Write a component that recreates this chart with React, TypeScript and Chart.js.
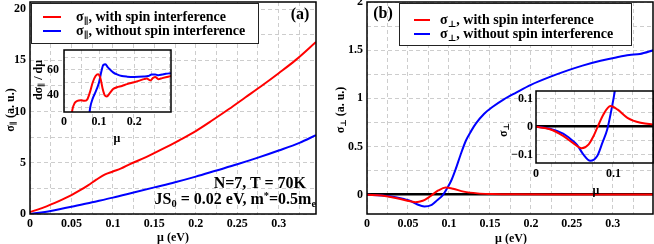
import React, { useEffect, useRef } from 'react';
import { Chart, registerables } from 'chart.js';
Chart.register(...registerables);

const RED = '#ff0000';
const BLUE = '#0000ff';
const FONT = '"Liberation Serif", "DejaVu Serif", serif';

// ---- Panel (a): sigma_par vs mu ----
const A_MU_RED = [0, 0.01, 0.02, 0.03, 0.04, 0.05, 0.06, 0.07, 0.08, 0.09, 0.1, 0.11, 0.12, 0.14, 0.16, 0.18, 0.2, 0.22, 0.24, 0.26, 0.28, 0.3, 0.32, 0.345];
const A_SIG_RED = [0.2, 0.45, 0.75, 1.08, 1.45, 1.85, 2.3, 2.8, 3.35, 3.85, 4.15, 4.45, 4.85, 5.55, 6.35, 7.2, 8.1, 9.15, 10.25, 11.4, 12.55, 13.75, 15.0, 16.8];
const A_MU_BLUE = [0, 0.025, 0.05, 0.075, 0.1, 0.125, 0.15, 0.175, 0.2, 0.225, 0.25, 0.275, 0.3, 0.325, 0.345];
const A_SIG_BLUE = [0, 0.3, 0.7, 1.15, 1.6, 2.1, 2.6, 3.1, 3.65, 4.25, 4.85, 5.5, 6.2, 6.95, 7.7];
const A_X_TICKS = [0, 0.025, 0.05, 0.075, 0.1, 0.125, 0.15, 0.175, 0.2, 0.225, 0.25, 0.275, 0.3, 0.325];
const A_X_LABELS = [0, 0.05, 0.1, 0.15, 0.2, 0.25, 0.3];
const A_Y_TICKS = [0, 2.5, 5, 7.5, 10, 12.5, 15, 17.5, 20];
const A_Y_LABELS = [0, 5, 10, 15, 20];

// ---- Panel (a) inset: d sigma_par / d mu ----
const AI_MU_RED = [0.018, 0.024, 0.03, 0.038, 0.048, 0.058, 0.066, 0.074, 0.082, 0.09, 0.097, 0.104, 0.11, 0.116, 0.122, 0.13, 0.14, 0.151, 0.165, 0.18, 0.2, 0.217, 0.228, 0.236, 0.246, 0.254, 0.26, 0.269, 0.28, 0.29, 0.305];
const AI_D_RED = [15, 28, 33, 35, 35.5, 35, 36, 42, 50, 55, 56.5, 53, 45, 39.5, 38.5, 41, 44.5, 46, 47, 48.5, 50, 51.5, 52.5, 53, 51.5, 53.5, 54.3, 52.5, 53.3, 54, 55];
const AI_MU_BLUE = [0.068, 0.075, 0.082, 0.088, 0.094, 0.1, 0.106, 0.112, 0.118, 0.125, 0.132, 0.14, 0.151, 0.165, 0.18, 0.2, 0.227, 0.24, 0.25, 0.26, 0.269, 0.28, 0.29, 0.305];
const AI_D_BLUE = [15, 30, 37, 41, 45, 50, 58, 64, 64.5, 62, 60, 58, 56.3, 55, 54.5, 54.3, 54.6, 55, 56.2, 56.3, 55.6, 56.2, 56.8, 57.3];
const AI_X_TICKS = [0, 0.05, 0.1, 0.15, 0.2, 0.25, 0.3];
const AI_X_LABELS = [0, 0.1, 0.2];
const AI_Y_TICKS = [30, 40, 50, 60, 70];
const AI_Y_LABELS = [40, 60];

// ---- Panel (b): sigma_perp vs mu (main and inset share data) ----
const B_MU_RED = [0, 0.018, 0.035, 0.048, 0.059, 0.068, 0.074, 0.079, 0.087, 0.096, 0.105, 0.118, 0.135, 0.152, 0.18, 0.25, 0.35];
const B_SIG_RED = [0, -0.009, -0.033, -0.059, -0.077, -0.063, -0.035, -0.004, 0.044, 0.074, 0.062, 0.032, 0.014, 0.008, 0.004, 0.002, 0.002];
const B_MU_BLUE = [0, 0.018, 0.035, 0.045, 0.053, 0.061, 0.07, 0.079, 0.086, 0.092, 0.098, 0.103, 0.108, 0.114, 0.1206, 0.127, 0.133, 0.143, 0.153, 0.167, 0.182, 0.2, 0.2225, 0.245, 0.263, 0.285, 0.304, 0.32, 0.333, 0.35];
const B_SIG_BLUE = [0, -0.007, -0.025, -0.045, -0.065, -0.099, -0.122, -0.105, -0.055, -0.009, 0.07, 0.15, 0.26, 0.41, 0.56, 0.66, 0.74, 0.84, 0.91, 0.99, 1.06, 1.14, 1.22, 1.29, 1.34, 1.39, 1.425, 1.45, 1.46, 1.5];
const B_X_TICKS = [0, 0.025, 0.05, 0.075, 0.1, 0.125, 0.15, 0.175, 0.2, 0.225, 0.25, 0.275, 0.3, 0.325];
const B_X_LABELS = [0, 0.05, 0.1, 0.15, 0.2, 0.25, 0.3];
const B_Y_TICKS = [0, 0.25, 0.5, 0.75, 1, 1.25, 1.5, 1.75, 2];
const B_Y_LABELS = [0, 0.5, 1, 1.5, 2];
const BI_X_TICKS = [0, 0.025, 0.05, 0.075, 0.1, 0.125, 0.15];
const BI_X_LABELS = [0, 0.1];
const BI_Y_TICKS = [-0.1, -0.05, 0, 0.05, 0.1];
const BI_Y_LABELS = [-0.1, 0, 0.1];

const pts = (xs: number[], ys: number[]) => xs.map((x, i) => ({ x, y: ys[i] }));

const line = (xs: number[], ys: number[], color: string) => ({
  data: pts(xs, ys),
  borderColor: color,
  backgroundColor: color,
  borderWidth: 2,
  pointRadius: 0,
  fill: false,
  cubicInterpolationMode: 'monotone',
});

const fmt = (v: number) => {
  const s = String(Math.round(v * 1000) / 1000);
  return s.replace('-', '\u2212');
};

function axis(o: {
  horizontal: boolean; min: number; max: number; ticks: number[]; labels: number[];
  size: number; pad: number; zero?: boolean;
}) {
  return {
    type: 'linear',
    min: o.min,
    max: o.max,
    afterBuildTicks: (s: any) => { s.ticks = o.ticks.map((v) => ({ value: v })); },
    afterFit: (s: any) => {
      if (o.horizontal) { s.height = o.size; s.paddingLeft = 0; s.paddingRight = 0; }
      else { s.width = o.size; s.paddingTop = 0; s.paddingBottom = 0; }
    },
    grid: {
      drawTicks: false,
      color: (c: any) => (o.zero && c.tick && Math.abs(c.tick.value) < 1e-9 ? '#000' : '#cdcdcd'),
      lineWidth: (c: any) => (o.zero && c.tick && Math.abs(c.tick.value) < 1e-9 ? 2.5 : 1),
    },
    border: {
      display: false,
      dash: (c: any) => (o.zero && c.tick && Math.abs(c.tick.value) < 1e-9 ? [] : [4, 3]),
    },
    ticks: {
      autoSkip: false,
      maxRotation: 0,
      padding: o.pad,
      color: '#000',
      font: { family: FONT, size: 12, weight: 'bold' },
      callback: (v: number) => (o.labels.some((l) => Math.abs(l - v) < 1e-9) ? fmt(v) : ''),
    },
  };
}

const framePlugin = {
  id: 'frame',
  beforeDraw(chart: any, _a: any, opts: any) {
    if (opts && opts.fill) {
      const { ctx, chartArea: ca } = chart;
      ctx.save();
      ctx.fillStyle = opts.fill;
      ctx.fillRect(ca.left, ca.top, ca.right - ca.left, ca.bottom - ca.top);
      ctx.restore();
    }
  },
  afterDatasetsDraw(chart: any, _a: any, opts: any) {
    const { ctx, chartArea: ca } = chart;
    ctx.save();
    ctx.strokeStyle = '#000';
    ctx.lineWidth = (opts && opts.width) || 1.5;
    ctx.strokeRect(ca.left, ca.top, ca.right - ca.left, ca.bottom - ca.top);
    ctx.restore();
  },
};

function makeConfig(datasets: any[], x: any, y: any, padding: any, fill?: string) {
  return {
    type: 'line',
    data: { datasets },
    options: {
      animation: false,
      responsive: false,
      devicePixelRatio: 1,
      layout: { padding },
      plugins: { legend: { display: false }, tooltip: { enabled: false }, frame: { fill, width: 1.5 } },
      scales: { x, y },
    },
    plugins: [framePlugin],
  };
}

function ChartCanvas({ config, left, top, width, height }: any) {
  const ref = useRef<HTMLCanvasElement>(null);
  useEffect(() => {
    const c = new Chart(ref.current as HTMLCanvasElement, config as any);
    return () => c.destroy();
  }, []);
  return (
    <canvas
      ref={ref}
      width={width}
      height={height}
      style={{ position: 'absolute', left, top, width, height }}
    />
  );
}

function T({ x, y, anchor = 'center', size = 12, rotate = false, children }: any) {
  const tx = anchor === 'left' ? '0' : anchor === 'right' ? '-100%' : '-50%';
  return (
    <div
      style={{
        position: 'absolute',
        left: x,
        top: y,
        transform: `translate(${tx}, -50%)` + (rotate ? ' rotate(-90deg)' : ''),
        transformOrigin: rotate ? 'center center' : undefined,
        fontFamily: FONT,
        fontWeight: 'bold',
        fontSize: size,
        lineHeight: 1,
        whiteSpace: 'nowrap',
        color: '#000',
      }}
    >
      {children}
    </div>
  );
}

const Sub = ({ children }: any) => (
  <span style={{ fontSize: '0.65em', verticalAlign: '-0.3em', lineHeight: 0 }}>{children}</span>
);
const Sup = ({ children }: any) => (
  <span style={{ fontSize: '0.65em', verticalAlign: '0.5em', lineHeight: 0 }}>{children}</span>
);

function LegendBox({ left, top, width, height, items, sampleX, sampleW, textX }: any) {
  return (
    <div style={{ position: 'absolute', left, top, width, height, background: '#fff', border: '1.5px solid #222', boxSizing: 'border-box' }}>
      {items.map((it: any, i: number) => (
        <React.Fragment key={i}>
          <div style={{ position: 'absolute', left: sampleX - left, top: it.y - top - 1, width: sampleW, height: 2, background: it.color }} />
          <T x={textX - left} y={it.y - top} anchor="left" size={14}>{it.label}</T>
        </React.Fragment>
      ))}
    </div>
  );
}

export default function App() {
  useEffect(() => {
    document.body.style.margin = '0';
  }, []);

  const cfgA = makeConfig(
    [line(A_MU_RED, A_SIG_RED, RED), line(A_MU_BLUE, A_SIG_BLUE, BLUE)],
    axis({ horizontal: true, min: 0, max: 0.345, ticks: A_X_TICKS, labels: A_X_LABELS, size: 30, pad: 3 }),
    axis({ horizontal: false, min: 0, max: 20.7, ticks: A_Y_TICKS, labels: A_Y_LABELS, size: 30, pad: 4 }),
    { top: 2, right: 11, left: 0, bottom: 0 },
  );
  const cfgAI = makeConfig(
    [line(AI_MU_RED, AI_D_RED, RED), line(AI_MU_BLUE, AI_D_BLUE, BLUE)],
    axis({ horizontal: true, min: 0, max: 0.305, ticks: AI_X_TICKS, labels: AI_X_LABELS, size: 15, pad: 3 }),
    axis({ horizontal: false, min: 26, max: 76, ticks: AI_Y_TICKS, labels: AI_Y_LABELS, size: 30, pad: 5 }),
    { top: 3, right: 3, left: 0, bottom: 0 },
    '#ffffff',
  );
  const cfgB = makeConfig(
    [line(B_MU_RED, B_SIG_RED, RED), line(B_MU_BLUE, B_SIG_BLUE, BLUE)],
    axis({ horizontal: true, min: 0, max: 0.349, ticks: B_X_TICKS, labels: B_X_LABELS, size: 30, pad: 3 }),
    axis({ horizontal: false, min: -0.2, max: 2, ticks: B_Y_TICKS, labels: B_Y_LABELS, size: 40, pad: 4, zero: true }),
    { top: 2, right: 1, left: 0, bottom: 0 },
  );
  const cfgBI = makeConfig(
    [line(B_MU_RED, B_SIG_RED, RED), line(B_MU_BLUE, B_SIG_BLUE, BLUE)],
    axis({ horizontal: true, min: 0, max: 0.151, ticks: BI_X_TICKS, labels: BI_X_LABELS, size: 17, pad: 4 }),
    axis({ horizontal: false, min: -0.13, max: 0.128, ticks: BI_Y_TICKS, labels: BI_Y_LABELS, size: 36, pad: 3, zero: true }),
    { top: 5, right: 1, left: 0, bottom: 0 },
    '#ffffff',
  );

  return (
    <div style={{ position: 'relative', width: 654, height: 244, overflow: 'hidden', background: '#fff' }}>
      <ChartCanvas config={cfgA} left={0} top={0} width={327} height={244} />
      <ChartCanvas config={cfgB} left={327} top={0} width={327} height={244} />
      <ChartCanvas config={cfgAI} left={34} top={47} width={140} height={80} />
      <ChartCanvas config={cfgBI} left={500} top={86} width={154} height={94} />

      {/* Panel (a) texts */}
      <T x={10} y={110} rotate size={12}>σ<Sub>∥</Sub> (a. u.)</T>
      <T x={173} y={237} size={12}>μ (eV)</T>
      <T x={300} y={14} size={16}>(a)</T>
      <T x={306} y={183} anchor="right" size={16}>N=7, T = 70K</T>
      <T x={316} y={199} anchor="right" size={16}>JS<Sub>0</Sub> = 0.02 eV, m<Sup>*</Sup>=0.5m<Sub>e</Sub></T>
      <LegendBox
        left={31} top={3} width={228} height={41}
        sampleX={42} sampleW={18} textX={75}
        items={[
          { y: 16, color: RED, label: <>σ<Sub>∥</Sub>, with spin interference</> },
          { y: 30, color: BLUE, label: <>σ<Sub>∥</Sub>, without spin interference</> },
        ]}
      />
      <T x={38} y={80} rotate size={12}>dσ<Sub>∥</Sub> / dμ</T>
      <T x={117} y={138} size={12}>μ</T>

      {/* Panel (b) texts */}
      <T x={340} y={110} rotate size={12}>σ<Sub>⊥</Sub> (a. u.)</T>
      <T x={511} y={238} size={12}>μ (eV)</T>
      <T x={383} y={13} size={16}>(b)</T>
      <LegendBox
        left={399} top={3} width={233} height={43}
        sampleX={413} sampleW={16} textX={439}
        items={[
          { y: 19, color: RED, label: <>σ<Sub>⊥</Sub>, with spin interference</> },
          { y: 33, color: BLUE, label: <>σ<Sub>⊥</Sub>, without spin interference</> },
        ]}
      />
      <T x={503} y={130} rotate size={12}>σ<Sub>⊥</Sub></T>
      <T x={596} y={190} size={12}>μ</T>
    </div>
  );
}
